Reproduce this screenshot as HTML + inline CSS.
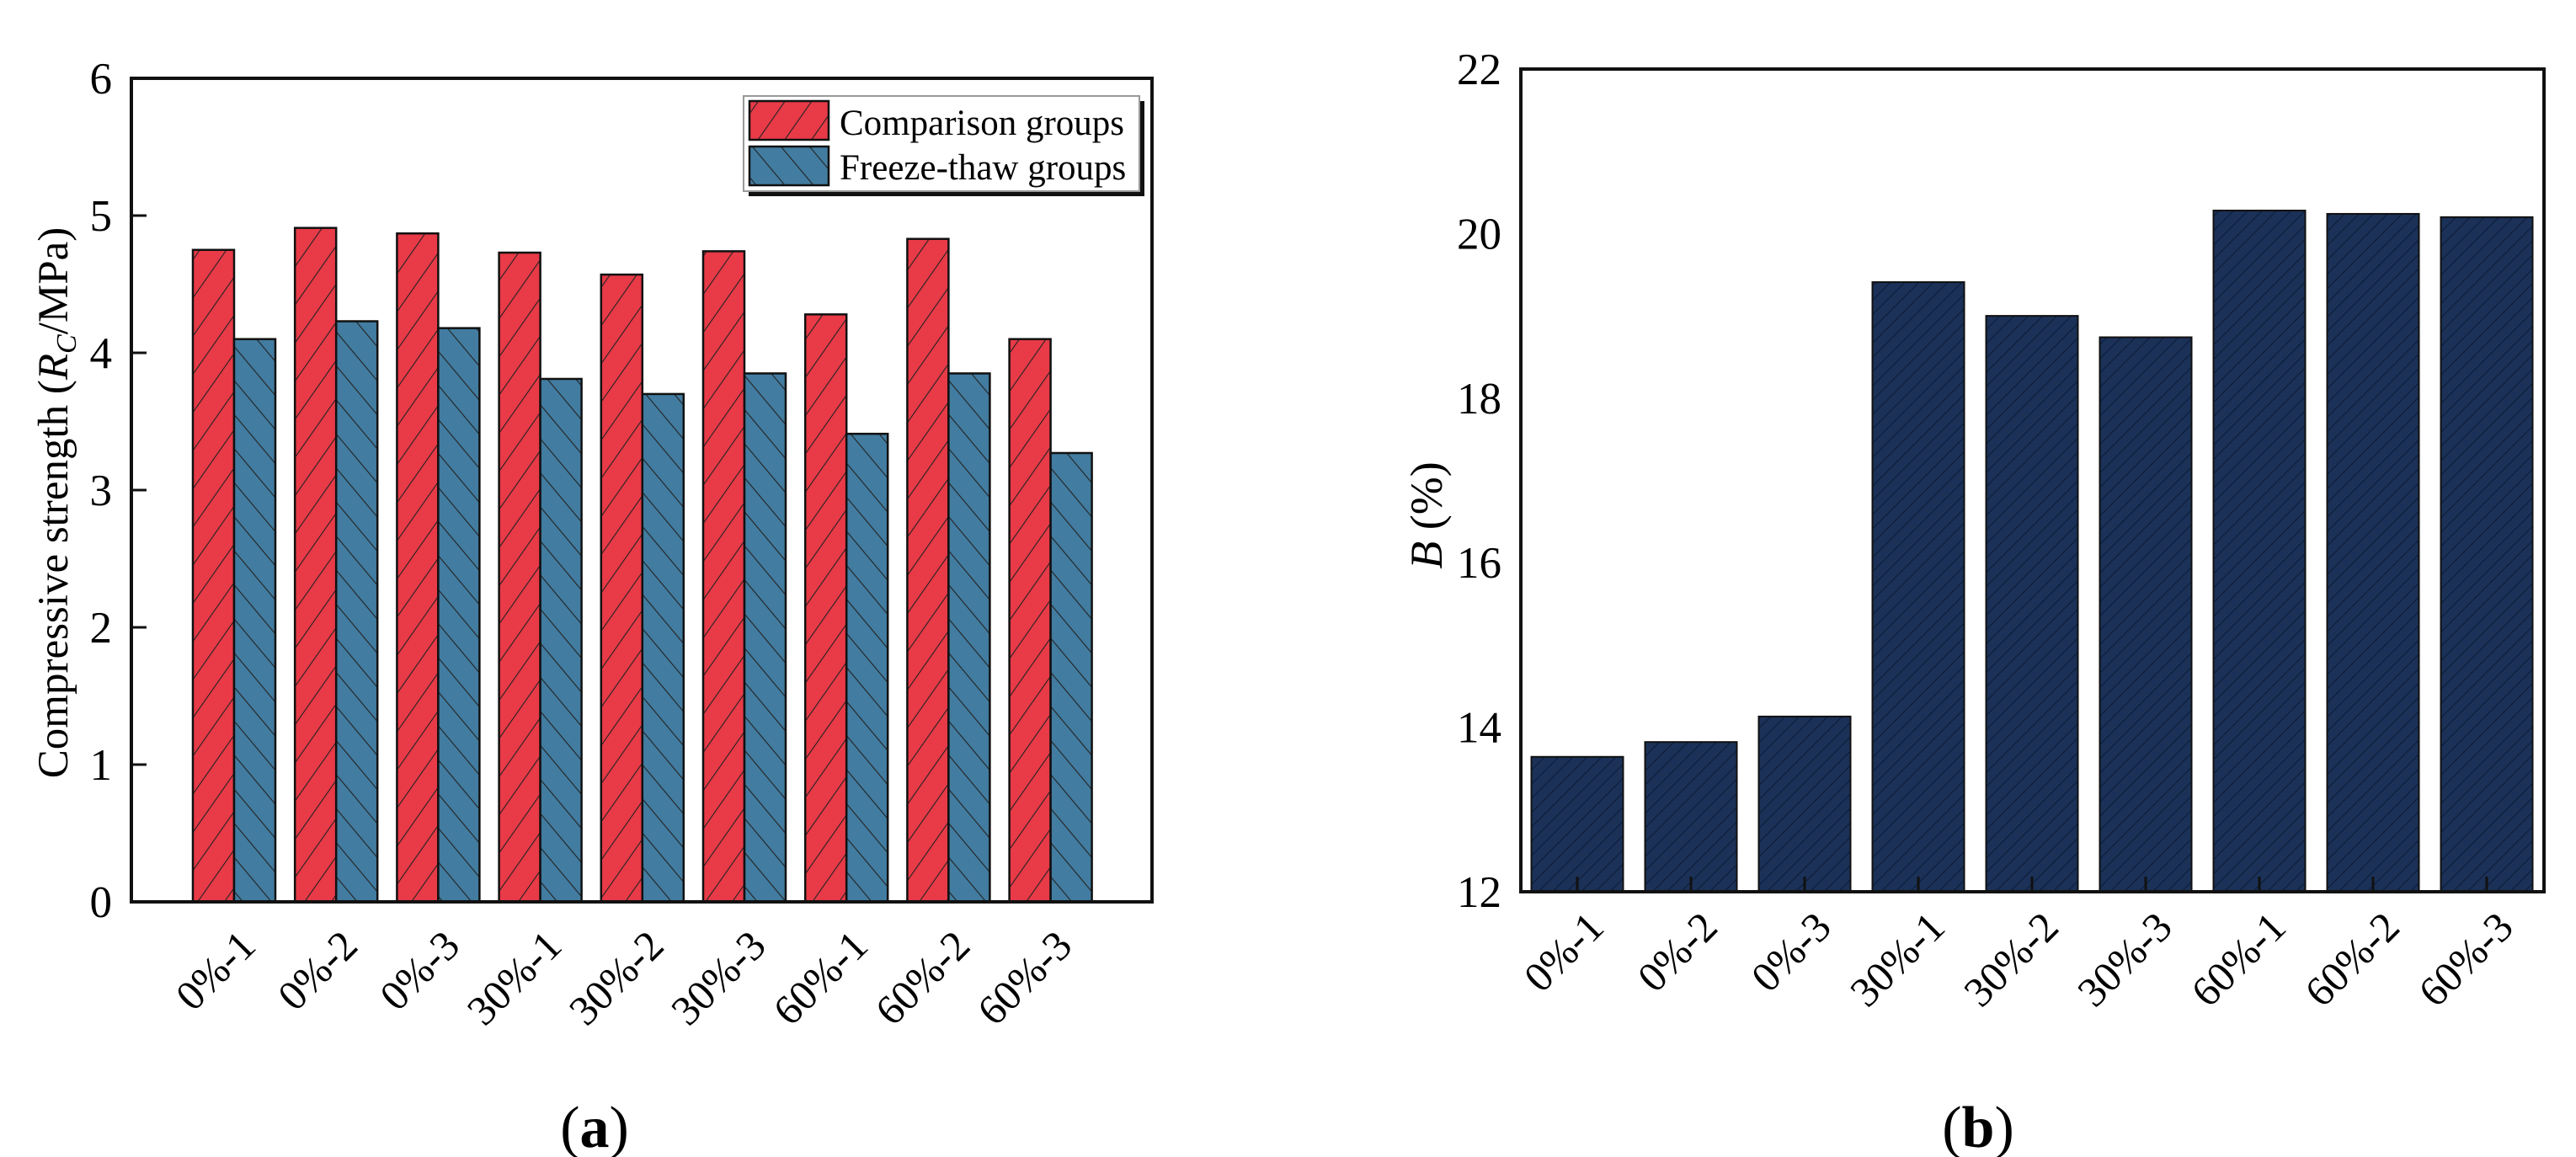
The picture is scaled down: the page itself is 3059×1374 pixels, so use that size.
<!DOCTYPE html>
<html><head><meta charset="utf-8"><style>
html,body{margin:0;padding:0;background:#fff;}
svg{display:block;font-family:"Liberation Serif",serif;}
</style></head><body>
<svg id="svg" width="3059" height="1374" viewBox="0 0 3059 1374" xmlns="http://www.w3.org/2000/svg">
<defs>
<pattern id="hatchRed" patternUnits="userSpaceOnUse" width="26" height="26" patternTransform="rotate(35)">
<rect width="26" height="26" fill="#E83A47"/><line x1="0" y1="0" x2="0" y2="26" stroke="#222" stroke-width="2.2"/></pattern>
<pattern id="hatchBlue" patternUnits="userSpaceOnUse" width="26" height="26" patternTransform="rotate(-40)">
<rect width="26" height="26" fill="#427CA0"/><line x1="0" y1="0" x2="0" y2="26" stroke="#222" stroke-width="2.2"/></pattern>
<pattern id="hatchNavy" patternUnits="userSpaceOnUse" width="12" height="12" patternTransform="rotate(45)">
<rect width="12" height="12" fill="#1B3158"/><line x1="0" y1="0" x2="0" y2="12" stroke="#0c1a33" stroke-width="2"/></pattern>
</defs>
<g id="chartA"></g>
<g id="chartB"></g>
<text x="706" y="1362" font-size="70" text-anchor="middle">(<tspan font-weight="bold">a</tspan>)</text>
<text x="2349" y="1362" font-size="70" text-anchor="middle">(<tspan font-weight="bold">b</tspan>)</text>
</svg>
<script>
const categories = ["0%-1","0%-2","0%-3","30%-1","30%-2","30%-3","60%-1","60%-2","60%-3"];
const comparisonValues = [4.75,4.91,4.87,4.73,4.57,4.74,4.28,4.83,4.10];
const freezeThawValues = [4.10,4.23,4.18,3.81,3.70,3.85,3.41,3.85,3.27];
const bValues = [13.64,13.82,14.13,19.41,19.00,18.74,20.28,20.24,20.20];
const yTicksA = [0,1,2,3,4,5,6];
const yTicksB = [12,14,16,18,20,22];
const NS = "http://www.w3.org/2000/svg";
function mk(parent, tag, attrs, text){const e=document.createElementNS(NS,tag);for(const k in attrs)e.setAttribute(k,attrs[k]);if(text!==undefined)e.textContent=text;parent.appendChild(e);return e;}

// Chart A
(function(){
const g=document.getElementById('chartA');
const L=156,R=1368,T=93,B=1071,yMin=0,yMax=6;
const y=v=>B-(v-yMin)/(yMax-yMin)*(B-T);
const pitch=121.2,c0=278,bw=49;
const x=i=>c0+i*pitch;
categories.forEach((c,i)=>{
 const r=mk(g,'rect',{x:x(i)-bw,y:y(comparisonValues[i]),width:bw,height:B-y(comparisonValues[i]),fill:'url(#hatchRed)',stroke:'#111','stroke-width':2.5});
 
 
 const b=mk(g,'rect',{x:x(i),y:y(freezeThawValues[i]),width:bw,height:B-y(freezeThawValues[i]),fill:'url(#hatchBlue)',stroke:'#111','stroke-width':2.5});
 
 
 const t=mk(g,'text',{x:0,y:0,'font-size':50,'text-anchor':'end',transform:`translate(${x(i)+28},${B+55}) rotate(-45)`},c);
 
 
});
yTicksA.forEach(v=>{
 mk(g,'line',{x1:L,x2:L+18,y1:y(v),y2:y(v),stroke:'#111','stroke-width':3});
 const t=mk(g,'text',{x:133,y:y(v)+18,'font-size':53,'text-anchor':'end'},String(v));
 
 
});
const f=mk(g,'rect',{x:L,y:T,width:R-L,height:B-T,fill:'none',stroke:'#111','stroke-width':4});


const yt=mk(g,'text',{x:0,y:0,'font-size':51,'text-anchor':'middle',transform:'translate(80,597) rotate(-90)'});
yt.innerHTML='Compressive strength (<tspan font-style="italic">R</tspan><tspan font-style="italic" font-size="34" dy="10">C</tspan><tspan dy="-10">/MPa)</tspan>';


// legend
const lg=mk(g,'g',{});


mk(lg,'rect',{x:889,y:120,width:470,height:113,fill:'#111'});
mk(lg,'rect',{x:883,y:114,width:470,height:113,fill:'#fff',stroke:'#999','stroke-width':2});
mk(lg,'rect',{x:890,y:120,width:94,height:46,fill:'url(#hatchRed)',stroke:'#111','stroke-width':2.5});
mk(lg,'rect',{x:890,y:174,width:94,height:46,fill:'url(#hatchBlue)',stroke:'#111','stroke-width':2.5});
const l1=mk(lg,'text',{x:997,y:160,'font-size':43},'Comparison groups');


const l2=mk(lg,'text',{x:997,y:213,'font-size':43},'Freeze-thaw groups');


})();

// Chart B
(function(){
const g=document.getElementById('chartB');
const L=1806,R=3021,T=82,B=1059,yMin=12,yMax=22;
const y=v=>B-(v-yMin)/(yMax-yMin)*(B-T);
const pitch=135,c0=1873,bw=109;
const x=i=>c0+i*pitch;
categories.forEach((c,i)=>{
 const r=mk(g,'rect',{x:x(i)-bw/2,y:y(bValues[i]),width:bw,height:B-y(bValues[i]),fill:'url(#hatchNavy)',stroke:'#111','stroke-width':2});
 
 
 mk(g,'line',{x1:x(i),x2:x(i),y1:B,y2:B-18,stroke:'#111','stroke-width':3});
 const t=mk(g,'text',{x:0,y:0,'font-size':50,'text-anchor':'end',transform:`translate(${x(i)+34},${B+45}) rotate(-45)`},c);
 
 
});
yTicksB.forEach(v=>{
 const t=mk(g,'text',{x:1783,y:y(v)+18,'font-size':53,'text-anchor':'end'},String(v));
 
 
});
const f=mk(g,'rect',{x:L,y:T,width:R-L,height:B-T,fill:'none',stroke:'#111','stroke-width':4});


const yt=mk(g,'text',{x:0,y:0,'font-size':54,'text-anchor':'middle',transform:'translate(1712,612) rotate(-90)'});
yt.innerHTML='<tspan font-style="italic">B</tspan> (%)';


})();
</script>
</body></html>
